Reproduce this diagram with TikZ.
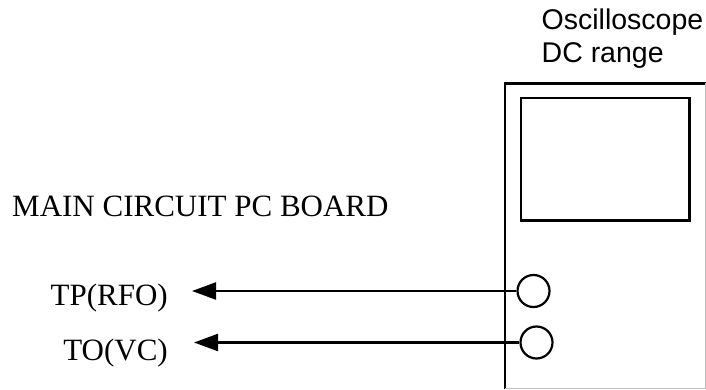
\documentclass[tikz,border=0pt]{standalone}
\usepackage{fontspec}
\setmainfont{Liberation Serif}
\newfontfamily\scopefont{Liberation Sans}
\usetikzlibrary{arrows.meta}
\begin{document}
\begin{tikzpicture}[x=1pt,y=-1pt,
  serlabel/.style={font=\fontsize{31}{36}\selectfont, inner sep=0pt},
  sanslabel/.style={font=\scopefont\fontsize{28.5}{34}\selectfont, inner sep=0pt, anchor=base west},
  jack/.style={draw, circle, line width=2.2pt, minimum size=32pt, inner sep=0pt},
  arr/.style={line width=2.2pt, -{Triangle[length=24pt,width=17pt]}},
  thick edge/.style={line width=2.4pt},
  faint edge/.style={line width=0.6pt, black!25}]
\useasboundingbox (0,0) rectangle (706,390);
% oscilloscope body
\draw[thick edge] (505,389) -- (505,83.5) -- (706,83.5);
\draw[faint edge] (705.5,83.5) -- (705.5,388.5) -- (505,388.5);
% screen
\draw[thick edge] (521,98) rectangle (689.5,220.5);
% jacks
\node[jack] (c1) at (533.5,291) {};
\node[jack] (c2) at (536.5,342.5) {};
% labels
\node[sanslabel] (osc) at (541.5,30) {Oscilloscope};
\node[sanslabel] (dcr) at (541.5,63) {DC range};
\node[serlabel, anchor=base west] (main) at (12,216) {MAIN CIRCUIT PC BOARD};
\node[serlabel, anchor=base east] (tp) at (168,305) {TP(RFO)};
\node[serlabel, anchor=base east] (to) at (168,360) {TO(VC)};
% arrow ends
\coordinate (e1) at (192,291);
\coordinate (e2) at (194,342.5);
\draw[arr] (c1.west) -- (e1);
\draw[arr] (c2.west) -- (e2);
\end{tikzpicture}
\end{document}
